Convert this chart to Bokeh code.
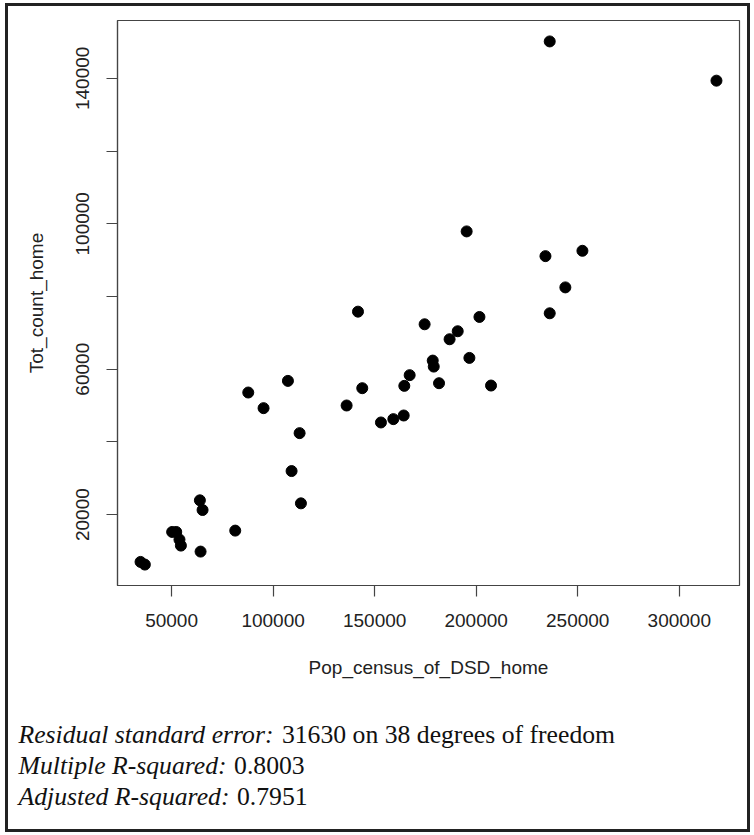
from bokeh.plotting import figure
from bokeh.layouts import column
from bokeh.models import Range1d, FixedTicker, Label
from bokeh.embed import file_html
from bokeh.resources import INLINE

# ---- data ----
pop_census = [236200, 318300, 195300, 234100, 252300, 243900, 236200, 174600,
              201600, 190900, 186900, 178600, 179100, 196650, 167240, 164600,
              181700, 207300, 164300, 159200, 153100, 141800, 143900, 136200,
              107300, 87770, 95300, 113050, 109100, 113700, 63950, 65270,
              81360, 64290, 50300, 52300, 53900, 54600, 34730, 36850]
tot_count = [150150, 139360, 97900, 91100, 92570, 82500, 75380, 72360,
             74370, 70440, 68240, 62370, 60720, 63110, 58360, 55420,
             56150, 55510, 47270, 46270, 45350, 75830, 54780, 50020,
             56790, 53590, 49290, 42420, 31990, 23110, 23940, 21280,
             15610, 9840, 15240, 15240, 13140, 11490, 7000, 6270]

x_ticks = [50000, 100000, 150000, 200000, 250000, 300000]
x_tick_labels = ["50000", "100000", "150000", "200000", "250000", "300000"]
y_ticks = [20000, 40000, 60000, 80000, 100000, 120000, 140000]
y_tick_labels = ["20000", "", "60000", "", "100000", "", "140000"]

x_title = "Pop_census_of_DSD_home"
y_title = "Tot_count_home"

stats_italic = ["Residual standard error:", "Multiple R-squared:", "Adjusted R-squared:"]
stats_normal = ["31630 on 38 degrees of freedom", "0.8003", "0.7951"]

# ---- layout (content area inside the outer border) ----
CW = 739             # content width
H1, H2 = 694, 129    # scatter figure / statistics strip
FL, FT, FW, FH = 109, 14, 622, 565

def pad(lo, hi):
    d = (hi - lo) * 0.04
    return lo - d, hi + d

x0, x1 = pad(min(pop_census), max(pop_census))
y0, y1 = pad(min(tot_count), max(tot_count))

p = figure(width=CW, height=H1, output_backend="svg", toolbar_location=None,
           x_range=Range1d(x0, x1), y_range=Range1d(y0, y1),
           min_border_left=FL, min_border_top=FT,
           min_border_right=CW - FL - FW, min_border_bottom=H1 - FT - FH,
           frame_width=FW, frame_height=FH)
p.background_fill_color = "white"
p.border_fill_color = "white"
p.outline_line_color = "#444444"
p.outline_line_width = 1.2
p.xgrid.visible = False
p.ygrid.visible = False

p.scatter(pop_census, tot_count, size=11, color="black")

AX_FONT = "Liberation Sans"
for ax in (p.xaxis[0], p.yaxis[0]):
    ax.axis_line_color = "#444444"
    ax.axis_line_width = 1.2
    ax.major_tick_line_color = "#444444"
    ax.major_tick_line_width = 1.2
    ax.major_tick_out = 11
    ax.major_tick_in = 0
    ax.minor_tick_line_color = None
    ax.major_label_text_font = AX_FONT
    ax.major_label_text_font_size = "19px"
    ax.major_label_text_color = "#222222"
    ax.axis_label_text_font = AX_FONT
    ax.axis_label_text_font_size = "19px"
    ax.axis_label_text_font_style = "normal"
    ax.axis_label_text_color = "#222222"
    ax.major_label_standoff = 17
    ax.axis_label_standoff = 27

p.xaxis[0].ticker = FixedTicker(ticks=x_ticks)
p.xaxis[0].major_label_overrides = {t: s for t, s in zip(x_ticks, x_tick_labels)}
p.xaxis[0].axis_label = x_title

p.yaxis[0].ticker = FixedTicker(ticks=y_ticks)
p.yaxis[0].major_label_overrides = {t: s for t, s in zip(y_ticks, y_tick_labels)}
p.yaxis[0].major_label_orientation = "vertical"
p.yaxis[0].axis_label = y_title

# ---- statistics strip ----
s = figure(width=CW, height=H2, output_backend="svg", toolbar_location=None,
           x_range=Range1d(0, CW), y_range=Range1d(0, H2),
           min_border=0, x_axis_type=None, y_axis_type=None)
s.background_fill_color = "white"
s.border_fill_color = "white"
s.outline_line_color = None
s.xgrid.visible = False
s.ygrid.visible = False

# keep the strip's frame independent of the scatter's frame
for fig in (p, s):
    if "frame_align" in fig.properties():
        fig.frame_align = False

F = 25.7
ital_w = {"Residual standard error:": 10.0, "Multiple R-squared:": 8.138,
          "Adjusted R-squared:": 8.249}
X0 = 10
for i, (a, b) in enumerate(zip(stats_italic, stats_normal)):
    ybase = H2 - (34 + 31 * i)
    s.add_layout(Label(x=X0, y=ybase, x_units="screen", y_units="screen",
                       text=a, text_font="Liberation Serif", text_font_style="italic",
                       text_font_size=f"{F}px", text_color="#111111",
                       text_baseline="alphabetic"))
    s.add_layout(Label(x=X0 + (ital_w[a] + 0.25) * F, y=ybase,
                       x_units="screen", y_units="screen", text=b,
                       text_font="Liberation Serif",
                       text_font_size=f"{F}px", text_color="#111111",
                       text_baseline="alphabetic"))

layout = column(p, s, spacing=0,
                styles={"border": "3px solid #222222", "margin-left": "5px",
                        "margin-top": "3px", "background-color": "white"})

open("out.html", "w").write(file_html(layout, INLINE))
